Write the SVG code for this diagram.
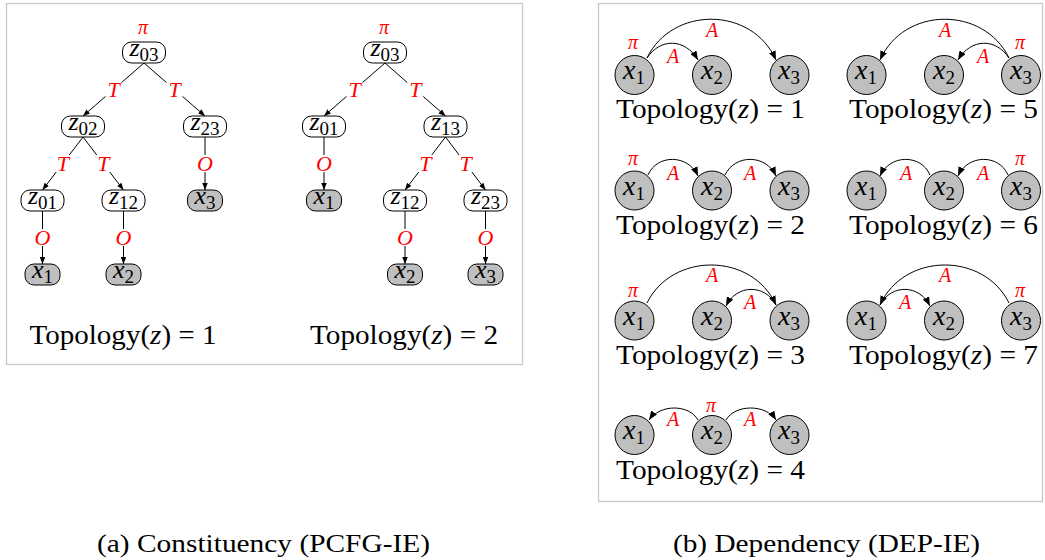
<svg xmlns="http://www.w3.org/2000/svg" width="1045" height="560" viewBox="0 0 1045 560">
<defs>
<style>
.panel{fill:none;stroke:#c8c8c8;stroke-width:1.3}
.zbox{fill:#fff;stroke:#000;stroke-width:1}
.xbox{fill:#bfbfbf;stroke:#000;stroke-width:1}
.circ{fill:#bfbfbf;stroke:#000;stroke-width:1}
.edge{stroke:#000;stroke-width:1;fill:none;marker-end:url(#ah)}
.arc{stroke:#000;stroke-width:1;fill:none;marker-end:url(#ah2)}
text{font-family:'Liberation Serif','DejaVu Serif','Times New Roman',serif}
.lbl{font-style:italic;fill:#f00;font-size:22px;text-anchor:middle}
.albl{font-style:italic;fill:#f00;font-size:20px;text-anchor:middle}
.pi{font-style:italic;fill:#f00;font-size:20px;text-anchor:middle}
.bg{fill:#fff}
.nl{font-size:26px;text-anchor:middle;fill:#000}
.cl{font-size:28px;text-anchor:middle;fill:#000}
.it{font-style:italic}
.sub{font-size:19px;font-style:normal}
.topo{font-size:27px;text-anchor:middle;fill:#000}
.cap{font-size:26px;text-anchor:middle;fill:#000}
</style>
<marker id="ah" viewBox="0 0 7 5.5" refX="7" refY="2.75" markerWidth="7" markerHeight="5.5" markerUnits="userSpaceOnUse" orient="auto"><path d="M0,0 L7,2.75 L0,5.5 z" fill="#000"/></marker>
<marker id="ah2" viewBox="0 0 9 7" refX="9" refY="3.5" markerWidth="9" markerHeight="7" markerUnits="userSpaceOnUse" orient="auto"><path d="M0,0 L9,3.5 L0,7 z" fill="#000"/></marker>
</defs>
<rect class="panel" x="6.5" y="3.5" width="516" height="361"/>
<rect class="panel" x="598.5" y="3.5" width="444" height="498"/>

<g id="connectors-a1">
<line class="edge" x1="144" y1="63" x2="83" y2="116"/>
<line class="edge" x1="144" y1="63" x2="205" y2="116"/>
<line class="edge" x1="83" y1="137" x2="42.5" y2="190"/>
<line class="edge" x1="83" y1="137" x2="123.5" y2="190"/>
<line class="edge" x1="205" y1="137" x2="205" y2="190"/>
<line class="edge" x1="42.5" y1="211" x2="42.5" y2="264"/>
<line class="edge" x1="123.5" y1="211" x2="123.5" y2="264"/>
<rect class="bg" x="105.5" y="81" width="16" height="17"/><text class="lbl" x="113.5" y="97">T</text>
<rect class="bg" x="166.5" y="81" width="16" height="17"/><text class="lbl" x="174.5" y="97">T</text>
<rect class="bg" x="54.75" y="155" width="16" height="17"/><text class="lbl" x="62.75" y="171">T</text>
<rect class="bg" x="95.25" y="155" width="16" height="17"/><text class="lbl" x="103.25" y="171">T</text>
<rect class="bg" x="197" y="155" width="16" height="17"/><text class="lbl" x="205" y="171">O</text>
<rect class="bg" x="34.5" y="229" width="16" height="17"/><text class="lbl" x="42.5" y="245">O</text>
<rect class="bg" x="115.5" y="229" width="16" height="17"/><text class="lbl" x="123.5" y="245">O</text>
<text class="pi" x="143" y="34">π</text>
</g>
<g id="a1-z03"><rect class="zbox" x="122.5" y="42" width="43" height="21" rx="9"/><text class="nl" x="144" y="56"><tspan class="it">z</tspan><tspan class="sub" dy="5">03</tspan></text></g>
<g id="a1-z02"><rect class="zbox" x="61.5" y="116" width="43" height="21" rx="9"/><text class="nl" x="83" y="130"><tspan class="it">z</tspan><tspan class="sub" dy="5">02</tspan></text></g>
<g id="a1-z23"><rect class="zbox" x="183.5" y="116" width="43" height="21" rx="9"/><text class="nl" x="205" y="130"><tspan class="it">z</tspan><tspan class="sub" dy="5">23</tspan></text></g>
<g id="a1-z01"><rect class="zbox" x="21" y="190" width="43" height="21" rx="9"/><text class="nl" x="42.5" y="204"><tspan class="it">z</tspan><tspan class="sub" dy="5">01</tspan></text></g>
<g id="a1-z12"><rect class="zbox" x="102" y="190" width="43" height="21" rx="9"/><text class="nl" x="123.5" y="204"><tspan class="it">z</tspan><tspan class="sub" dy="5">12</tspan></text></g>
<g id="a1-x3"><rect class="xbox" x="187.5" y="190" width="35" height="21" rx="9"/><text class="nl" x="205" y="204"><tspan class="it">x</tspan><tspan class="sub" dy="5">3</tspan></text></g>
<g id="a1-x1"><rect class="xbox" x="25" y="264" width="35" height="21" rx="9"/><text class="nl" x="42.5" y="278"><tspan class="it">x</tspan><tspan class="sub" dy="5">1</tspan></text></g>
<g id="a1-x2"><rect class="xbox" x="106" y="264" width="35" height="21" rx="9"/><text class="nl" x="123.5" y="278"><tspan class="it">x</tspan><tspan class="sub" dy="5">2</tspan></text></g>
<text class="topo" x="123" y="344" textLength="187" lengthAdjust="spacingAndGlyphs">Topology(<tspan class="it">z</tspan>) = 1</text>

<g id="connectors-a2">
<line class="edge" x1="385" y1="63" x2="324" y2="116"/>
<line class="edge" x1="385" y1="63" x2="445.5" y2="116"/>
<line class="edge" x1="324" y1="137" x2="324" y2="190"/>
<line class="edge" x1="445.5" y1="137" x2="405" y2="190"/>
<line class="edge" x1="445.5" y1="137" x2="485.5" y2="190"/>
<line class="edge" x1="405" y1="211" x2="405" y2="264"/>
<line class="edge" x1="485.5" y1="211" x2="485.5" y2="264"/>
<rect class="bg" x="346.5" y="81" width="16" height="17"/><text class="lbl" x="354.5" y="97">T</text>
<rect class="bg" x="407.25" y="81" width="16" height="17"/><text class="lbl" x="415.25" y="97">T</text>
<rect class="bg" x="316" y="155" width="16" height="17"/><text class="lbl" x="324" y="171">O</text>
<rect class="bg" x="417.25" y="155" width="16" height="17"/><text class="lbl" x="425.25" y="171">T</text>
<rect class="bg" x="457.5" y="155" width="16" height="17"/><text class="lbl" x="465.5" y="171">T</text>
<rect class="bg" x="397" y="229" width="16" height="17"/><text class="lbl" x="405" y="245">O</text>
<rect class="bg" x="477.5" y="229" width="16" height="17"/><text class="lbl" x="485.5" y="245">O</text>
<text class="pi" x="384" y="34">π</text>
</g>
<g id="a2-z03"><rect class="zbox" x="363.5" y="42" width="43" height="21" rx="9"/><text class="nl" x="385" y="56"><tspan class="it">z</tspan><tspan class="sub" dy="5">03</tspan></text></g>
<g id="a2-z01"><rect class="zbox" x="302.5" y="116" width="43" height="21" rx="9"/><text class="nl" x="324" y="130"><tspan class="it">z</tspan><tspan class="sub" dy="5">01</tspan></text></g>
<g id="a2-z13"><rect class="zbox" x="424" y="116" width="43" height="21" rx="9"/><text class="nl" x="445.5" y="130"><tspan class="it">z</tspan><tspan class="sub" dy="5">13</tspan></text></g>
<g id="a2-x1"><rect class="xbox" x="306.5" y="190" width="35" height="21" rx="9"/><text class="nl" x="324" y="204"><tspan class="it">x</tspan><tspan class="sub" dy="5">1</tspan></text></g>
<g id="a2-z12"><rect class="zbox" x="383.5" y="190" width="43" height="21" rx="9"/><text class="nl" x="405" y="204"><tspan class="it">z</tspan><tspan class="sub" dy="5">12</tspan></text></g>
<g id="a2-z23"><rect class="zbox" x="464" y="190" width="43" height="21" rx="9"/><text class="nl" x="485.5" y="204"><tspan class="it">z</tspan><tspan class="sub" dy="5">23</tspan></text></g>
<g id="a2-x2"><rect class="xbox" x="387.5" y="264" width="35" height="21" rx="9"/><text class="nl" x="405" y="278"><tspan class="it">x</tspan><tspan class="sub" dy="5">2</tspan></text></g>
<g id="a2-x3"><rect class="xbox" x="468" y="264" width="35" height="21" rx="9"/><text class="nl" x="485.5" y="278"><tspan class="it">x</tspan><tspan class="sub" dy="5">3</tspan></text></g>
<text class="topo" x="404" y="344" textLength="188" lengthAdjust="spacingAndGlyphs">Topology(<tspan class="it">z</tspan>) = 2</text>

<g id="connectors-b">
<path class="arc" d="M647,58 C672,6 752,6 776,60"/>
<path class="arc" d="M647,58 C660,38 685,38 698,60"/>
<path class="arc" d="M1009,58 C984,6 904,6 880,60"/>
<path class="arc" d="M1009,58 C996,38 971,38 958,60"/>
<path class="arc" d="M648,175 C657,154 688,154 698,176"/>
<path class="arc" d="M725,175 C735,154 766,154 776,176"/>
<path class="arc" d="M930,175 C921,154 890,154 880,176"/>
<path class="arc" d="M1008,175 C999,154 968,154 958,176"/>
<path class="arc" d="M647,303 C672,252 752,252 776,305"/>
<path class="arc" d="M776,305 C765,284 737,284 726,306"/>
<path class="arc" d="M1009,303 C984,252 904,252 880,305"/>
<path class="arc" d="M880,305 C891,284 919,284 930,306"/>
<path class="arc" d="M698,420 C689,404 660,404 649,420"/>
<path class="arc" d="M726,420 C735,404 766,404 776,420"/>
<text class="albl" x="712" y="37">A</text><text class="albl" x="673" y="63">A</text><text class="pi" x="633" y="49">π</text>
<text class="albl" x="945" y="37">A</text><text class="albl" x="983" y="63">A</text><text class="pi" x="1020" y="49">π</text>
<text class="albl" x="673" y="180">A</text><text class="albl" x="750" y="180">A</text><text class="pi" x="633" y="165">π</text>
<text class="albl" x="906" y="180">A</text><text class="albl" x="983" y="180">A</text><text class="pi" x="1020" y="165">π</text>
<text class="albl" x="712" y="282">A</text><text class="albl" x="750" y="309">A</text><text class="pi" x="633" y="297">π</text>
<text class="albl" x="945" y="282">A</text><text class="albl" x="905" y="309">A</text><text class="pi" x="1020" y="297">π</text>
<text class="albl" x="673" y="426">A</text><text class="albl" x="750" y="426">A</text><text class="pi" x="711" y="412">π</text>
</g>

<g id="b1"><circle class="circ" cx="634.5" cy="75" r="19.5"/><text class="cl" x="634" y="79"><tspan class="it">x</tspan><tspan class="sub" dy="5">1</tspan></text>
<circle class="circ" cx="712" cy="75" r="19.5"/><text class="cl" x="712" y="79"><tspan class="it">x</tspan><tspan class="sub" dy="5">2</tspan></text>
<circle class="circ" cx="789.5" cy="75" r="19.5"/><text class="cl" x="789" y="79"><tspan class="it">x</tspan><tspan class="sub" dy="5">3</tspan></text>
<text class="topo" x="710.5" y="118" textLength="189" lengthAdjust="spacingAndGlyphs">Topology(<tspan class="it">z</tspan>) = 1</text></g>

<g id="b5"><circle class="circ" cx="866.5" cy="75" r="19.5"/><text class="cl" x="866" y="79"><tspan class="it">x</tspan><tspan class="sub" dy="5">1</tspan></text>
<circle class="circ" cx="944" cy="75" r="19.5"/><text class="cl" x="944" y="79"><tspan class="it">x</tspan><tspan class="sub" dy="5">2</tspan></text>
<circle class="circ" cx="1021" cy="75" r="19.5"/><text class="cl" x="1021" y="79"><tspan class="it">x</tspan><tspan class="sub" dy="5">3</tspan></text>
<text class="topo" x="943.5" y="118" textLength="189" lengthAdjust="spacingAndGlyphs">Topology(<tspan class="it">z</tspan>) = 5</text></g>

<g id="b2"><circle class="circ" cx="634.5" cy="190.5" r="19.5"/><text class="cl" x="634" y="194.5"><tspan class="it">x</tspan><tspan class="sub" dy="5">1</tspan></text>
<circle class="circ" cx="712" cy="190.5" r="19.5"/><text class="cl" x="712" y="194.5"><tspan class="it">x</tspan><tspan class="sub" dy="5">2</tspan></text>
<circle class="circ" cx="789.5" cy="190.5" r="19.5"/><text class="cl" x="789" y="194.5"><tspan class="it">x</tspan><tspan class="sub" dy="5">3</tspan></text>
<text class="topo" x="710.5" y="234" textLength="189" lengthAdjust="spacingAndGlyphs">Topology(<tspan class="it">z</tspan>) = 2</text></g>

<g id="b6"><circle class="circ" cx="866.5" cy="190.5" r="19.5"/><text class="cl" x="866" y="194.5"><tspan class="it">x</tspan><tspan class="sub" dy="5">1</tspan></text>
<circle class="circ" cx="944" cy="190.5" r="19.5"/><text class="cl" x="944" y="194.5"><tspan class="it">x</tspan><tspan class="sub" dy="5">2</tspan></text>
<circle class="circ" cx="1021" cy="190.5" r="19.5"/><text class="cl" x="1021" y="194.5"><tspan class="it">x</tspan><tspan class="sub" dy="5">3</tspan></text>
<text class="topo" x="943.5" y="234" textLength="189" lengthAdjust="spacingAndGlyphs">Topology(<tspan class="it">z</tspan>) = 6</text></g>

<g id="b3"><circle class="circ" cx="634.5" cy="320.5" r="19.5"/><text class="cl" x="634" y="324.5"><tspan class="it">x</tspan><tspan class="sub" dy="5">1</tspan></text>
<circle class="circ" cx="712" cy="320.5" r="19.5"/><text class="cl" x="712" y="324.5"><tspan class="it">x</tspan><tspan class="sub" dy="5">2</tspan></text>
<circle class="circ" cx="789.5" cy="320.5" r="19.5"/><text class="cl" x="789" y="324.5"><tspan class="it">x</tspan><tspan class="sub" dy="5">3</tspan></text>
<text class="topo" x="710.5" y="364" textLength="189" lengthAdjust="spacingAndGlyphs">Topology(<tspan class="it">z</tspan>) = 3</text></g>

<g id="b7"><circle class="circ" cx="866.5" cy="320.5" r="19.5"/><text class="cl" x="866" y="324.5"><tspan class="it">x</tspan><tspan class="sub" dy="5">1</tspan></text>
<circle class="circ" cx="944" cy="320.5" r="19.5"/><text class="cl" x="944" y="324.5"><tspan class="it">x</tspan><tspan class="sub" dy="5">2</tspan></text>
<circle class="circ" cx="1021" cy="320.5" r="19.5"/><text class="cl" x="1021" y="324.5"><tspan class="it">x</tspan><tspan class="sub" dy="5">3</tspan></text>
<text class="topo" x="943.5" y="364" textLength="189" lengthAdjust="spacingAndGlyphs">Topology(<tspan class="it">z</tspan>) = 7</text></g>

<g id="b4"><circle class="circ" cx="634.5" cy="435" r="19.5"/><text class="cl" x="634" y="439"><tspan class="it">x</tspan><tspan class="sub" dy="5">1</tspan></text>
<circle class="circ" cx="712" cy="435" r="19.5"/><text class="cl" x="712" y="439"><tspan class="it">x</tspan><tspan class="sub" dy="5">2</tspan></text>
<circle class="circ" cx="789.5" cy="435" r="19.5"/><text class="cl" x="789" y="439"><tspan class="it">x</tspan><tspan class="sub" dy="5">3</tspan></text>
<text class="topo" x="710.5" y="479" textLength="189" lengthAdjust="spacingAndGlyphs">Topology(<tspan class="it">z</tspan>) = 4</text></g>

<text class="cap" x="263.5" y="552" textLength="333" lengthAdjust="spacingAndGlyphs">(a) Constituency (PCFG-IE)</text>
<text class="cap" x="826.5" y="552" textLength="307" lengthAdjust="spacingAndGlyphs">(b) Dependency (DEP-IE)</text>
</svg>
